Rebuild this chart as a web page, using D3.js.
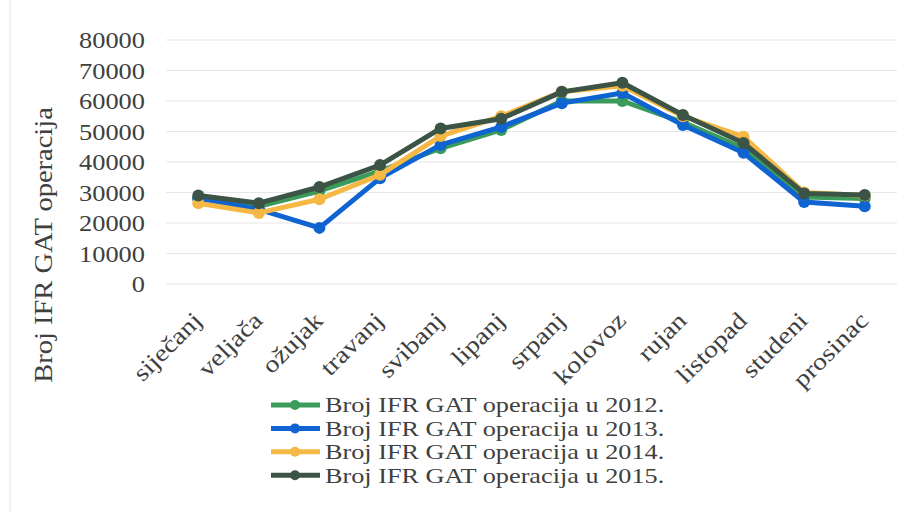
<!DOCTYPE html>
<html>
<head>
<meta charset="utf-8">
<script src="https://cdn.jsdelivr.net/npm/d3@7.9.0/dist/d3.min.js"></script>
<style>
  body { margin: 0; background: #fff; }
  svg { display: block; }
</style>
</head>
<body>
<svg width="909" height="512"></svg>
<script>
const months = ['siječanj', 'veljača', 'ožujak', 'travanj', 'svibanj', 'lipanj',
  'srpanj', 'kolovoz', 'rujan', 'listopad', 'studeni', 'prosinac'];
const yTicks = [0, 10000, 20000, 30000, 40000, 50000, 60000, 70000, 80000];
const seriesNames = ['Broj IFR GAT operacija u 2012.', 'Broj IFR GAT operacija u 2013.',
  'Broj IFR GAT operacija u 2014.', 'Broj IFR GAT operacija u 2015.'];
const ops2012 = [28000, 25500, 30500, 37000, 44500, 50500, 60000, 60000, 53000, 44500, 28500, 28000];
const ops2013 = [28000, 24500, 18400, 34700, 45600, 51500, 59300, 62600, 52100, 43000, 26900, 25500];
const ops2014 = [26500, 23300, 27800, 35800, 48500, 55000, 63000, 65000, 55000, 48300, 30000, 29000];
const ops2015 = [29000, 26500, 31800, 39000, 51000, 54200, 63000, 66000, 55400, 46200, 29700, 29200];
const colors = ['#3b9b5a', '#0f64d2', '#f6b844', '#3c5446'];

const series = [ops2012, ops2013, ops2014, ops2015];
const FONT = '"Liberation Serif", "Times New Roman", serif';
const svg = d3.select('svg');

const x = d3.scaleBand().domain(months).range([168, 895]);
const y = d3.scaleLinear().domain([0, 80000]).range([284, 40]);
const cx = d => x(d) + x.bandwidth() / 2;

// faint page edge on the left
svg.append('line').attr('x1', 10).attr('x2', 10).attr('y1', 0).attr('y2', 512)
  .attr('stroke', '#ececec').attr('stroke-width', 1.5);

// gridlines
svg.append('g').selectAll('line').data(yTicks).join('line')
  .attr('x1', 166).attr('x2', 897)
  .attr('y1', d => y(d)).attr('y2', d => y(d))
  .attr('stroke', '#e6e6e6').attr('stroke-width', 1.2);

// y axis labels (font is a bit wider in the original, so stretch horizontally)
svg.append('g').selectAll('text').data(yTicks).join('text')
  .attr('transform', d => `translate(145,${y(d)}) scale(1.1,1)`)
  .attr('dy', '0.35em')
  .attr('text-anchor', 'end')
  .style('font-family', FONT).style('font-size', '24px').style('fill', '#404040')
  .text(d => d);

svg.append('text')
  .attr('transform', 'translate(52,245) rotate(-90) scale(1.14,1)')
  .attr('text-anchor', 'middle')
  .style('font-family', FONT).style('font-size', '25px').style('fill', '#404040')
  .text('Broj IFR GAT operacija');

// x labels
svg.append('g').selectAll('text').data(months).join('text')
  .attr('transform', d => `translate(${cx(d) + 5},322) rotate(-45) scale(1.17,1)`)
  .attr('text-anchor', 'end')
  .style('font-family', FONT).style('font-size', '24px').style('fill', '#404040')
  .text(d => d);

const line = d3.line().x((d, i) => cx(months[i])).y(d => y(d));

series.forEach((vals, s) => {
  const g = svg.append('g');
  g.append('path').datum(vals)
    .attr('d', line).attr('fill', 'none')
    .attr('stroke', colors[s]).attr('stroke-width', 5)
    .attr('stroke-linejoin', 'round');
  g.selectAll('circle').data(vals).join('circle')
    .attr('cx', (d, i) => cx(months[i])).attr('cy', d => y(d))
    .attr('r', 6).attr('fill', colors[s]);
});

// legend
const legend = svg.append('g');
seriesNames.forEach((name, i) => {
  const ly = 405 + i * 23.4;
  legend.append('line').attr('x1', 271).attr('x2', 320).attr('y1', ly).attr('y2', ly)
    .attr('stroke', colors[i]).attr('stroke-width', 5);
  legend.append('circle').attr('cx', 295).attr('cy', ly).attr('r', 5).attr('fill', colors[i]);
  legend.append('text')
    .attr('transform', `translate(325,${ly}) scale(1.25,1)`)
    .attr('dy', '0.35em')
    .style('font-family', FONT).style('font-size', '21px').style('fill', '#404040')
    .text(name);
});
</script>
</body>
</html>
